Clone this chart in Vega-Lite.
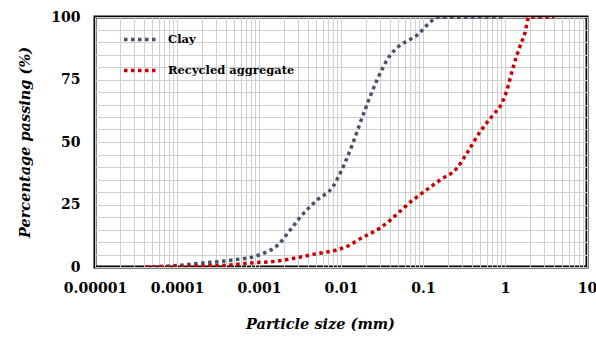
{
  "$schema": "https://vega.github.io/schema/vega-lite/v6.json",
  "width": 492,
  "height": 250,
  "autosize": {"type": "none"},
  "padding": {"left": 95, "top": 17, "right": 9, "bottom": 77},
  "background": "white",
  "config": {
    "font": "DejaVu Serif",
    "view": {"stroke": "black", "strokeWidth": 3},
    "axis": {"domain": false, "ticks": false, "gridColor": "#cfcfcf", "gridWidth": 1, "gridOpacity": 1, "labelFlush": false,
      "labelFont": "DejaVu Serif", "labelFontWeight": "bold", "labelFontSize": 14, "labelColor": "black",
      "titleFont": "DejaVu Serif", "titleFontWeight": "bold", "titleFontStyle": "italic", "titleFontSize": 14.5, "titleColor": "black"}
  },
  "data": {"values": [
    {"s": "Clay", "d": 0.000041, "p": 0},
    {"s": "Clay", "d": 0.0001, "p": 0.6},
    {"s": "Clay", "d": 0.00019, "p": 1.5},
    {"s": "Clay", "d": 0.00048, "p": 2.8},
    {"s": "Clay", "d": 0.001, "p": 4.8},
    {"s": "Clay", "d": 0.0018, "p": 9.6},
    {"s": "Clay", "d": 0.0024, "p": 14.8},
    {"s": "Clay", "d": 0.0032, "p": 20},
    {"s": "Clay", "d": 0.0051, "p": 26.8},
    {"s": "Clay", "d": 0.0079, "p": 32},
    {"s": "Clay", "d": 0.0098, "p": 37.6},
    {"s": "Clay", "d": 0.0125, "p": 45.5},
    {"s": "Clay", "d": 0.0196, "p": 62.8},
    {"s": "Clay", "d": 0.0275, "p": 74.8},
    {"s": "Clay", "d": 0.04, "p": 84.8},
    {"s": "Clay", "d": 0.048, "p": 87.6},
    {"s": "Clay", "d": 0.085, "p": 92.8},
    {"s": "Clay", "d": 0.132, "p": 98.8},
    {"s": "Clay", "d": 0.16, "p": 100},
    {"s": "Clay", "d": 1.0, "p": 100},
    {"s": "Recycled aggregate", "d": 0.000041, "p": 0},
    {"s": "Recycled aggregate", "d": 0.0002, "p": 0.4},
    {"s": "Recycled aggregate", "d": 0.00048, "p": 0.9},
    {"s": "Recycled aggregate", "d": 0.00078, "p": 1.6},
    {"s": "Recycled aggregate", "d": 0.0016, "p": 2.3},
    {"s": "Recycled aggregate", "d": 0.0032, "p": 4.0},
    {"s": "Recycled aggregate", "d": 0.0042, "p": 4.8},
    {"s": "Recycled aggregate", "d": 0.0129, "p": 8.8},
    {"s": "Recycled aggregate", "d": 0.0157, "p": 10.6},
    {"s": "Recycled aggregate", "d": 0.03, "p": 15.6},
    {"s": "Recycled aggregate", "d": 0.0755, "p": 26.8},
    {"s": "Recycled aggregate", "d": 0.162, "p": 34.8},
    {"s": "Recycled aggregate", "d": 0.26, "p": 39.6},
    {"s": "Recycled aggregate", "d": 0.344, "p": 45.6},
    {"s": "Recycled aggregate", "d": 0.495, "p": 54},
    {"s": "Recycled aggregate", "d": 0.714, "p": 60.8},
    {"s": "Recycled aggregate", "d": 0.918, "p": 65.6},
    {"s": "Recycled aggregate", "d": 1.057, "p": 70.8},
    {"s": "Recycled aggregate", "d": 1.26, "p": 80},
    {"s": "Recycled aggregate", "d": 1.51, "p": 88},
    {"s": "Recycled aggregate", "d": 1.75, "p": 93.6},
    {"s": "Recycled aggregate", "d": 1.96, "p": 100},
    {"s": "Recycled aggregate", "d": 4.0, "p": 100}
  ]},
  "mark": {"type": "line", "strokeWidth": 3.5, "strokeDash": [3.5, 3.5], "strokeCap": "butt", "interpolate": "monotone", "clip": true},
  "encoding": {
    "x": {"field": "d", "type": "quantitative",
      "scale": {"type": "log", "domain": [0.00001, 10], "nice": false},
      "axis": {"title": "Particle size (mm)", "titlePadding": 22, "titleX": 225, "labelPadding": 14, "format": ".5~f",
        "values": [0.00001,0.00002,0.00003,0.00004,0.00005,0.00006,0.00007,0.00008,0.00009,
                   0.0001,0.0002,0.0003,0.0004,0.0005,0.0006,0.0007,0.0008,0.0009,
                   0.001,0.002,0.003,0.004,0.005,0.006,0.007,0.008,0.009,
                   0.01,0.02,0.03,0.04,0.05,0.06,0.07,0.08,0.09,
                   0.1,0.2,0.3,0.4,0.5,0.6,0.7,0.8,0.9,
                   1,2,3,4,5,6,7,8,9,10],
        "labelExpr": "abs(log(datum.value)/LN10 - round(log(datum.value)/LN10)) < 0.0001 ? datum.label : ''",
        "labelOverlap": false}},
    "y": {"field": "p", "type": "quantitative",
      "scale": {"domain": [0, 100], "nice": false},
      "axis": {"title": "Percentage passing (%)", "titlePadding": 18, "labelPadding": 15,
        "values": [0,5,10,15,20,25,30,35,40,45,50,55,60,65,70,75,80,85,90,95,100],
        "labelExpr": "datum.value % 25 == 0 ? datum.label : ''", "labelOverlap": false}},
    "color": {"field": "s", "type": "nominal",
      "scale": {"domain": ["Clay", "Recycled aggregate"], "range": ["#44546A", "#CC0000"]},
      "legend": {"title": null, "orient": "none", "legendX": 27, "legendY": 3,
        "symbolType": "stroke", "symbolStrokeWidth": 3.5, "symbolDash": [3.5, 3.5], "symbolSize": 1225,
        "labelFont": "DejaVu Serif", "labelFontWeight": "bold", "labelFontSize": 11.5, "labelColor": "black",
        "rowPadding": 4, "labelOffset": 7}}
  }
}
